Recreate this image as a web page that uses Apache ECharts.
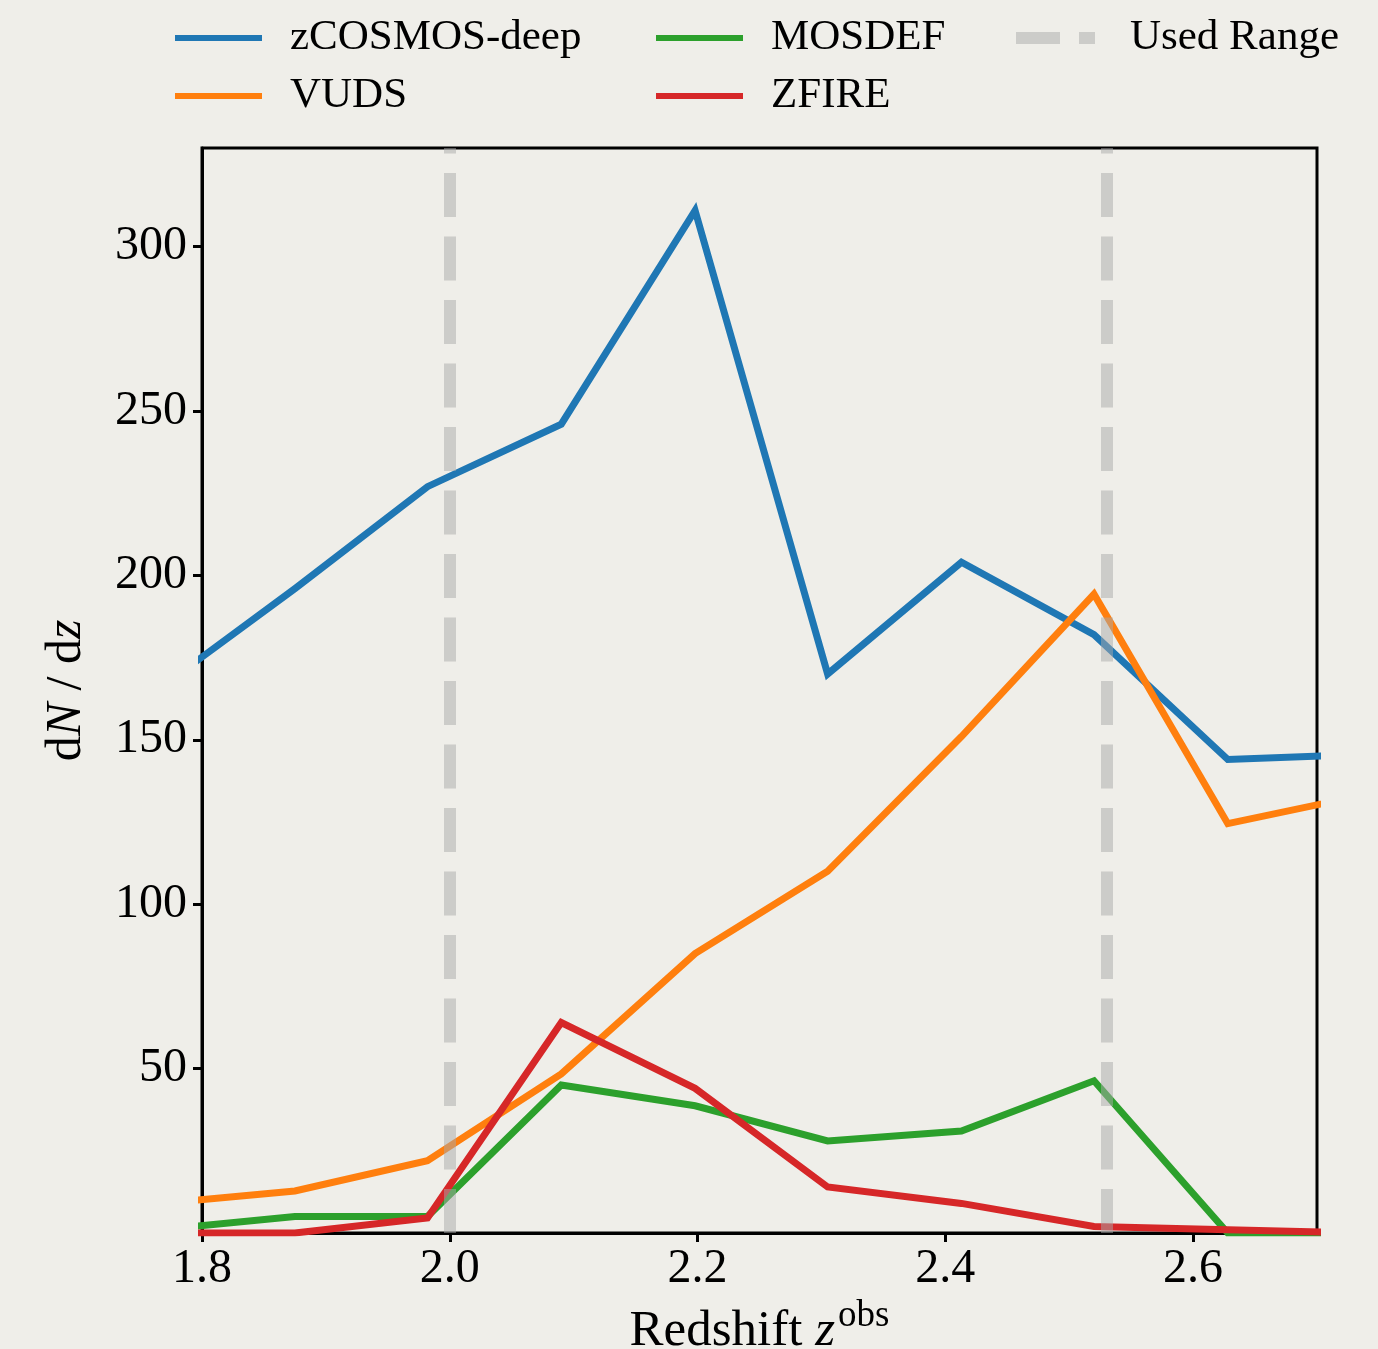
<!DOCTYPE html>
<html>
<head>
<meta charset="utf-8">
<script src="https://cdn.jsdelivr.net/npm/echarts@6/dist/echarts.min.js"></script>
<style>
html,body{margin:0;padding:0;background:#efeee9;}
#chart{width:1378px;height:1349px;}
</style>
</head>
<body>
<div id="chart"></div>
<script>
// Bin centres of the redshift histogram (first and last lie outside the plotted range)
const zCenters = [1.767, 1.875, 1.982, 2.090, 2.198, 2.305, 2.413, 2.520, 2.628, 2.735];
const zcosmosDeep = [166, 196, 227, 246, 311, 170, 204, 182, 144, 145.5];
const vuds        = [9, 12.8, 22, 48.4, 85, 110, 151, 194.3, 124.5, 133];
const mosdef      = [1, 5, 5, 45, 38.7, 28, 31, 46.3, 0, 0];
const zfire       = [0, 0, 4.6, 64, 44, 14, 9, 2, 1, 0];
const usedRange   = [2.0, 2.53];
const xTicks = [1.8, 2.0, 2.2, 2.4, 2.6];
const yTicks = [50, 100, 150, 200, 250, 300];

const FONT = '"Liberation Serif", "DejaVu Serif", serif';
const colors = {
  'zCOSMOS-deep': '#1f77b4',
  'VUDS': '#ff7f0e',
  'MOSDEF': '#2ca02c',
  'ZFIRE': '#d62728',
  'Used Range': 'rgba(169,169,169,0.5)'
};

function pairs(ys){ return zCenters.map((x,i)=>[x, ys[i]]); }
function lineSeries(name, ys){
  return {
    name, type:'line', data: pairs(ys), symbol:'none', clip:true,
    color: colors[name],
    itemStyle:{color: colors[name]},
    lineStyle:{color: colors[name], width:7, join:'miter'},
    z: 3
  };
}
function legendItem(name, left, top, opts){
  return Object.assign({
    data:[{name, icon:'rect'}],
    left, top, padding:0,
    itemWidth:87, itemHeight:6,
    textStyle:{fontFamily:FONT, fontSize:43, color:'#000', padding:[0,0,0,23], lineHeight:50},
    selectedMode:false
  }, opts||{});
}

const chart = echarts.init(document.getElementById('chart'), null, {renderer:'canvas'});
chart.setOption({
  backgroundColor:'#efeee9',
  animation:false,
  legend:[
    legendItem('zCOSMOS-deep', 175, 13),
    legendItem('VUDS', 175, 71),
    legendItem('MOSDEF', 656, 13),
    legendItem('ZFIRE', 656, 71),
    legendItem('Used Range', 1016, 13, {
      data:[{name:'Used Range', icon:'path://M0,0H44V12H0Z M63,0H79V12H63Z'}],
      itemWidth:79, itemHeight:12,
      textStyle:{fontFamily:FONT, fontSize:43, color:'#000', padding:[0,0,0,30], lineHeight:50}
    })
  ],
  grid:{left:202, right:61, top:148, bottom:116, show:true, borderColor:'#000', borderWidth:3,
    backgroundColor:'transparent', containLabel:false, outerBoundsMode:'none'},
  xAxis:{
    type:'value', min:1.8, max:2.7,
    name:'{a|Redshift }{b|z}{c|obs}',
    nameLocation:'middle', nameGap:62,
    nameTextStyle:{
      color:'#000',
      rich:{
        a:{fontFamily:FONT, fontSize:51, color:'#000', verticalAlign:'bottom'},
        b:{fontFamily:FONT, fontSize:51, fontStyle:'italic', color:'#000', verticalAlign:'bottom'},
        c:{fontFamily:FONT, fontSize:37, color:'#000', verticalAlign:'bottom', padding:[0,0,22,3]}
      }
    },
    axisLine:{show:true, onZero:false, lineStyle:{color:'#000', width:3}},
    axisTick:{show:true, inside:false, length:9, lineStyle:{color:'#000', width:3}, customValues:xTicks},
    axisLabel:{show:true, margin:12, fontFamily:FONT, fontSize:48, color:'#000', customValues:xTicks,
      formatter:v=>v.toFixed(1)},
    splitLine:{show:false}
  },
  yAxis:{
    type:'value', min:0, max:330,
    name:'{a|d}{b|N}{a| / d}{b|z}',
    nameLocation:'middle', nameGap:110, nameRotate:90,
    nameTextStyle:{
      color:'#000',
      rich:{
        a:{fontFamily:FONT, fontSize:50, color:'#000'},
        b:{fontFamily:FONT, fontSize:50, fontStyle:'italic', color:'#000'}
      }
    },
    axisLine:{show:true, onZero:false, lineStyle:{color:'#000', width:3}},
    axisTick:{show:true, inside:false, length:9, lineStyle:{color:'#000', width:3}, customValues:yTicks},
    axisLabel:{show:true, margin:15, fontFamily:FONT, fontSize:48, color:'#000', customValues:yTicks},
    splitLine:{show:false}
  },
  series:[
    lineSeries('zCOSMOS-deep', zcosmosDeep),
    lineSeries('VUDS', vuds),
    lineSeries('MOSDEF', mosdef),
    lineSeries('ZFIRE', zfire),
    {
      name:'Used Range', type:'line', data:[], symbol:'none',
      color: colors['Used Range'],
      itemStyle:{color: colors['Used Range']},
      lineStyle:{color: colors['Used Range']},
      z: 5,
      markLine:{
        silent:true, symbol:['none','none'], animation:false,
        label:{show:false},
        lineStyle:{color: colors['Used Range'], width:12, type:[44,19.5], cap:'butt'},
        emphasis:{disabled:true},
        data: usedRange.map(v=>({xAxis:v}))
      }
    }
  ]
});
</script>
</body>
</html>
